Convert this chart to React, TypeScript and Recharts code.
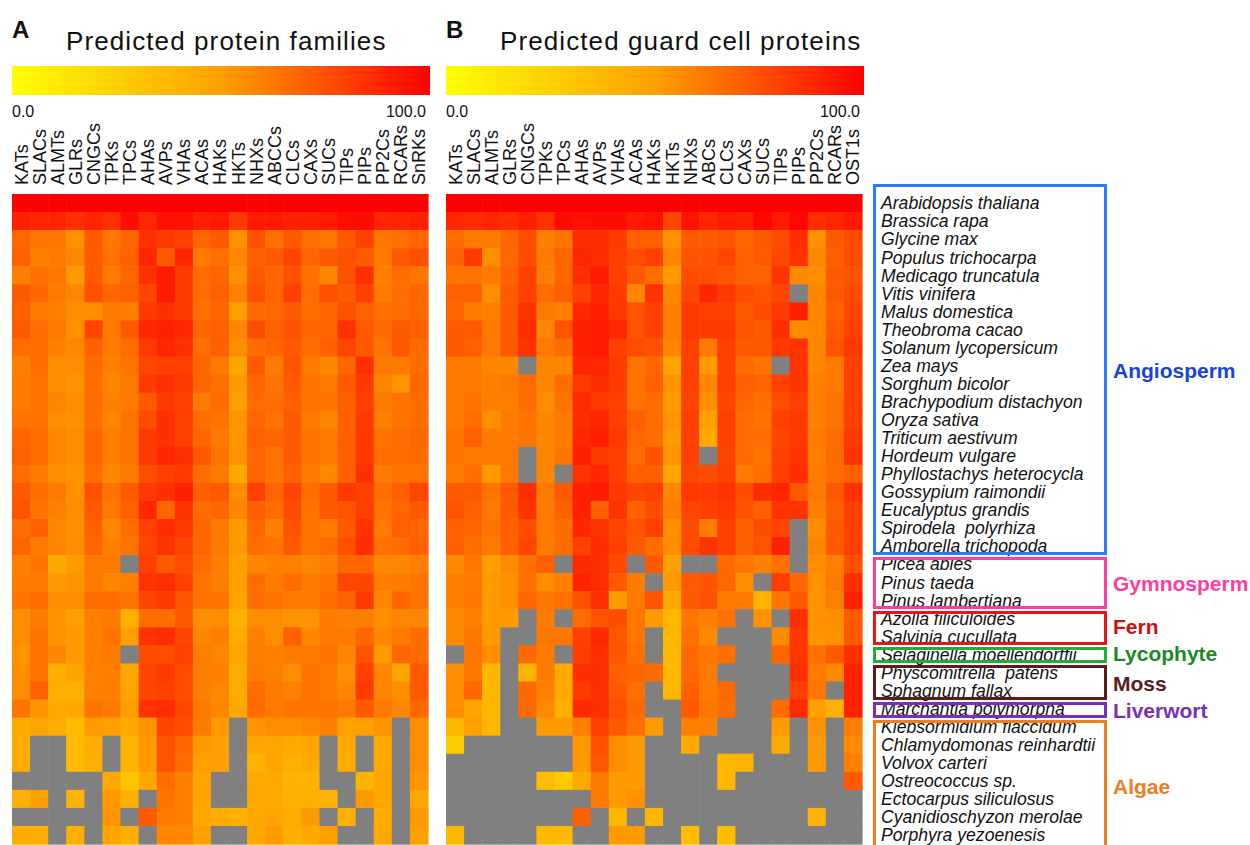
import React from "react";
import { ScatterChart, Scatter, XAxis, YAxis } from "recharts";

document.body.style.margin = "0";

const FONT = "'Liberation Sans', Arial, Helvetica, sans-serif";

const FAMILIES_A = ["KATs", "SLACs", "ALMTs", "GLRs", "CNGCs", "TPKs", "TPCs", "AHAs", "AVPs", "VHAs", "ACAs", "HAKs", "HKTs", "NHXs", "ABCCs", "CLCs", "CAXs", "SUCs", "TIPs", "PIPs", "PP2Cs", "RCARs", "SnRKs"];
const FAMILIES_B = ["KATs", "SLACs", "ALMTs", "GLRs", "CNGCs", "TPKs", "TPCs", "AHAs", "AVPs", "VHAs", "ACAs", "HAKs", "HKTs", "NHXs", "ABCs", "CLCs", "CAXs", "SUCs", "TIPs", "PIPs", "PP2Cs", "RCARs", "OST1s"];

const SPECIES = [
  "Arabidopsis thaliana", "Brassica rapa", "Glycine max", "Populus trichocarpa", "Medicago truncatula",
  "Vitis vinifera", "Malus domestica", "Theobroma cacao", "Solanum lycopersicum", "Zea mays",
  "Sorghum bicolor", "Brachypodium distachyon", "Oryza sativa", "Triticum aestivum", "Hordeum vulgare",
  "Phyllostachys heterocycla", "Gossypium raimondii", "Eucalyptus grandis", "Spirodela  polyrhiza", "Amborella trichopoda",
  "Picea abies", "Pinus taeda", "Pinus lambertiana",
  "Azolla filiculoides", "Salvinia cucullata",
  "Selaginella moellendorffii",
  "Physcomitrella  patens", "Sphagnum fallax",
  "Marchantia polymorpha",
  "Klebsormidium flaccidum", "Chlamydomonas reinhardtii", "Volvox carteri", "Ostreococcus sp.",
  "Ectocarpus siliculosus", "Cyanidioschyzon merolae", "Porphyra yezoenesis",
];

const GROUP_NAMES = ["Angiosperm", "Gymnosperm", "Fern", "Lycophyte", "Moss", "Liverwort", "Algae"];
const GROUP_SIZES = [20, 3, 2, 1, 2, 1, 7];

const _ = null;
const FULL = Array(23).fill(100);

// percent of Arabidopsis count, null = not found (grey)
const VALUES_A: (number | null)[][] = [
  FULL,
  [90, 88, 88, 85, 88, 85, 96, 88, 95, 95, 90, 92, 82, 92, 92, 90, 90, 92, 96, 96, 88, 88, 90],
  [68, 63, 63, 55, 72, 63, 68, 85, 82, 80, 68, 72, 55, 75, 65, 72, 65, 63, 72, 80, 63, 65, 68],
  [70, 60, 62, 58, 72, 65, 70, 88, 72, 88, 62, 65, 58, 70, 72, 78, 68, 72, 75, 72, 62, 72, 75],
  [60, 65, 63, 52, 72, 62, 68, 85, 92, 82, 66, 68, 55, 72, 68, 75, 65, 58, 75, 85, 60, 66, 63],
  [72, 68, 62, 58, 75, 68, 70, 78, 92, 82, 66, 70, 60, 75, 68, 80, 66, 75, 72, 80, 62, 66, 68],
  [70, 62, 60, 56, 56, 62, 60, 82, 85, 82, 65, 68, 50, 66, 68, 72, 66, 68, 75, 70, 65, 66, 68],
  [72, 66, 62, 55, 78, 62, 72, 88, 90, 88, 68, 70, 58, 76, 70, 74, 68, 68, 85, 72, 66, 72, 70],
  [66, 66, 60, 58, 70, 62, 66, 82, 88, 85, 65, 70, 56, 66, 68, 72, 66, 70, 78, 72, 64, 72, 66],
  [60, 66, 56, 56, 66, 60, 64, 78, 80, 80, 68, 62, 48, 72, 62, 74, 62, 58, 68, 85, 62, 62, 66],
  [62, 64, 56, 54, 66, 58, 62, 82, 85, 82, 68, 65, 52, 68, 64, 72, 64, 62, 72, 82, 58, 54, 68],
  [62, 64, 58, 56, 66, 60, 62, 72, 82, 80, 62, 66, 50, 66, 66, 70, 64, 64, 70, 80, 62, 64, 66],
  [64, 64, 56, 55, 66, 58, 64, 76, 85, 80, 66, 64, 54, 68, 64, 72, 62, 58, 70, 82, 60, 64, 66],
  [68, 66, 58, 56, 68, 60, 64, 82, 85, 80, 68, 62, 54, 70, 68, 72, 64, 62, 70, 82, 64, 66, 68],
  [70, 66, 58, 56, 68, 60, 64, 82, 88, 85, 72, 64, 54, 68, 64, 72, 64, 62, 70, 82, 66, 66, 66],
  [66, 62, 56, 54, 66, 58, 62, 76, 80, 82, 66, 62, 46, 68, 64, 70, 62, 58, 70, 85, 62, 64, 64],
  [72, 66, 62, 55, 75, 64, 72, 82, 85, 90, 70, 72, 56, 80, 68, 78, 66, 72, 82, 80, 66, 70, 78],
  [74, 64, 60, 56, 72, 62, 70, 88, 68, 84, 66, 68, 58, 70, 66, 76, 64, 72, 74, 80, 64, 68, 72],
  [66, 70, 58, 55, 70, 58, 66, 80, 86, 82, 68, 62, 52, 68, 60, 74, 64, 62, 72, 84, 62, 70, 68],
  [68, 62, 58, 56, 68, 60, 64, 78, 84, 78, 68, 62, 52, 66, 64, 72, 64, 66, 75, 86, 64, 66, 70],
  [60, 64, 46, 52, 62, 62, _, 80, 72, 76, 66, 60, 50, 58, 60, 60, 58, 60, 68, 68, 58, 58, 60],
  [62, 62, 52, 54, 62, 58, 60, 84, 86, 80, 64, 60, 50, 66, 62, 66, 62, 64, 78, 78, 60, 62, 64],
  [64, 66, 56, 56, 66, 66, 64, 78, 82, 74, 64, 64, 48, 66, 64, 62, 62, 66, 70, 82, 58, 68, 64],
  [56, 62, 54, 50, 60, 62, 42, 66, 66, 72, 56, 56, 42, 56, 56, 54, 54, 62, 60, 60, 56, 58, 58],
  [56, 64, 54, 52, 60, 64, 50, 84, 86, 78, 58, 60, 44, 60, 56, 70, 58, 62, 62, 68, 58, 62, 66],
  [54, 64, 58, 52, 60, 62, _, 76, 76, 80, 60, 58, 48, 60, 60, 62, 62, 64, 58, 74, 52, 68, 66],
  [56, 64, 42, 48, 60, 60, 46, 78, 82, 76, 60, 60, 44, 62, 60, 56, 64, 62, 56, 80, 58, 48, 72],
  [56, 70, 42, 42, 60, 60, 48, 78, 80, 76, 60, 58, 44, 66, 62, 60, 64, 62, 58, 82, 58, 56, 72],
  [64, 54, 46, 46, 64, 62, 50, 84, 86, 78, 62, 58, 46, 66, 62, 64, 64, 64, 62, 72, 62, 58, 68],
  [44, 48, 44, 36, 52, 50, 46, 54, 78, 76, 62, 52, _, 54, 56, 56, 58, 60, 50, 50, 54, _, 56],
  [44, _, _, 36, 44, _, 40, 52, 74, 68, 52, 50, _, 48, 48, 46, 48, _, 46, _, 46, _, 56],
  [44, _, _, 36, 42, _, 40, 52, 74, 66, 50, 50, _, 40, 48, 42, 46, _, 44, _, 46, _, 56],
  [_, _, _, _, _, 46, 30, 46, 66, 60, 48, _, _, 46, 46, 40, 40, _, _, 40, 46, _, 54],
  [42, 50, _, 40, _, 52, 42, _, 64, 60, 48, _, _, 46, 46, 42, 42, 40, _, 52, 46, _, 46],
  [_, _, _, _, _, 54, _, 72, 62, 60, 46, 44, 42, 46, 48, 44, 52, _, 42, _, 44, _, 52],
  [44, 44, _, 42, _, 48, 42, _, 58, 58, 50, _, _, 46, 52, 42, 46, 50, _, _, 46, _, 50],
];

const VALUES_B: (number | null)[][] = [
  FULL,
  [88, 86, 88, 86, 90, 84, 96, 95, 96, 96, 92, 94, 78, 94, 88, 92, 90, 98, 92, 98, 86, 88, 92],
  [66, 62, 62, 68, 76, 60, 64, 86, 86, 82, 70, 70, 55, 72, 72, 74, 68, 72, 76, 86, 55, 72, 76],
  [70, 82, 56, 68, 76, 62, 68, 88, 86, 80, 76, 80, 58, 74, 74, 78, 70, 72, 78, 84, 58, 70, 76],
  [64, 64, 62, 70, 80, 60, 68, 86, 92, 80, 72, 66, 52, 76, 76, 74, 70, 70, 84, 57, 56, 72, 74],
  [70, 70, 56, 72, 80, 66, 70, 80, 88, 82, 58, 84, 58, 78, 88, 82, 76, 74, 78, _, 58, 72, 76],
  [68, 62, 60, 72, 84, 62, 60, 88, 90, 82, 74, 80, 60, 82, 80, 80, 72, 76, 82, 90, 58, 70, 78],
  [72, 72, 62, 72, 86, 58, 74, 90, 92, 88, 74, 80, 60, 82, 82, 82, 74, 72, 86, 56, 58, 72, 80],
  [72, 70, 62, 72, 84, 62, 66, 90, 92, 80, 76, 74, 58, 80, 62, 80, 72, 72, 82, 84, 58, 74, 82],
  [62, 62, 58, 58, _, 58, 58, 88, 88, 82, 64, 68, 48, 80, 52, 80, 66, 64, _, 84, 58, 62, 80],
  [62, 62, 60, 62, 66, 58, 66, 82, 86, 82, 64, 70, 54, 80, 58, 80, 70, 68, 80, 84, 60, 62, 80],
  [62, 64, 60, 60, 66, 56, 64, 86, 82, 80, 64, 66, 52, 78, 56, 78, 68, 66, 76, 80, 60, 64, 80],
  [62, 66, 56, 62, 64, 58, 62, 86, 88, 80, 70, 66, 54, 80, 50, 80, 66, 64, 80, 82, 60, 64, 80],
  [64, 70, 62, 62, 64, 58, 62, 88, 90, 82, 68, 66, 52, 80, 46, 80, 66, 66, 78, 82, 62, 66, 82],
  [64, 62, 62, 62, _, 58, 64, 90, 82, 80, 66, 74, 54, 80, _, 78, 66, 64, 80, 84, 60, 66, 84],
  [62, 66, 52, 62, _, 58, _, 84, 88, 80, 70, 70, 48, 78, 76, 80, 62, 66, 80, 86, 62, 66, 70],
  [72, 72, 64, 72, 86, 62, 72, 90, 92, 82, 78, 80, 58, 82, 82, 84, 76, 86, 88, 72, 62, 72, 84],
  [74, 70, 62, 72, 84, 62, 70, 90, 70, 84, 70, 76, 60, 78, 80, 82, 74, 70, 84, 84, 60, 70, 80],
  [70, 68, 64, 70, 76, 62, 66, 88, 84, 78, 74, 80, 56, 76, 62, 80, 70, 76, 78, _, 56, 72, 80],
  [70, 66, 62, 70, 78, 62, 66, 80, 86, 80, 72, 66, 56, 76, 84, 80, 70, 74, 90, _, 58, 72, 80],
  [57, 63, 50, 57, 65, 70, _, 87, 85, 77, _, 72, 50, _, _, 67, 63, 60, 65, _, 56, 60, 75],
  [60, 62, 52, 55, 65, 56, 60, 89, 86, 72, 62, _, 52, 72, 74, 68, 56, _, 81, 68, 55, 62, 85],
  [60, 63, 52, 55, 68, 63, 65, 75, 85, 52, 62, 74, 45, 72, 75, 62, 62, 40, 63, 72, 55, 60, 89],
  [57, 60, 52, 52, _, 62, _, 66, 74, 76, 63, 52, 38, 63, 60, 65, _, 55, _, 85, 55, 56, 72],
  [57, 63, 52, _, _, 63, 63, 80, 87, 73, 63, _, 38, 65, 57, _, _, _, 57, 83, 54, 55, 72],
  [_, 63, 56, _, 67, 62, _, 81, 85, 73, 65, _, 38, 67, 63, 65, _, _, 68, 83, 65, 72, 85],
  [56, 63, 37, _, 40, 62, 45, 85, 85, 70, 68, 66, 38, 67, 62, _, _, _, _, 85, 62, 57, 89],
  [56, 68, 38, _, 67, 60, 45, 82, 85, 72, 65, _, 37, 70, 62, 67, _, _, _, 80, 63, _, 89],
  [56, 48, 38, _, 67, 57, 42, 87, 85, 75, 67, _, _, 72, 63, 66, _, _, 66, 87, 50, 42, 89],
  [38, 50, 38, _, _, 52, 52, 60, 80, 72, 65, 52, _, 60, 60, _, _, _, 52, _, 55, _, 60],
  [28, _, _, _, _, _, _, 52, 75, 56, 52, _, _, 45, _, _, _, _, 45, _, 52, _, 57],
  [_, _, _, _, _, _, _, 52, 73, 56, 52, _, _, _, _, 38, 40, _, _, _, 52, _, 60],
  [_, _, _, _, _, 35, 28, 45, 62, 52, 52, _, _, _, _, 38, _, _, _, _, _, _, 72],
  [_, _, _, _, _, _, _, _, 62, 52, 55, _, _, _, _, _, _, _, _, _, _, _, _],
  [_, _, _, _, _, _, _, 70, _, 38, _, 38, _, _, _, _, _, _, _, _, 40, _, _],
  [38, _, _, _, _, 38, 37, _, _, 52, 52, _, _, 35, _, 35, _, _, _, _, _, _, _],
];

// layout
const PLOT_TOP = 194;
const PLOT_W = 416;
const PLOT_H = 650;
const CELL_W = PLOT_W / 23;
const CELL_H = PLOT_H / 36;
const colTicks = FAMILIES_A.map((_, i) => i);
const rowTicks = SPECIES.map((_, i) => i);

const GROUP_STYLE = [
  { box: "#2a7bff", text: "#1744d4", dy: -4 },
  { box: "#ff3d9c", text: "#ff3d9c", dy: 2 },
  { box: "#e8141c", text: "#cf0e0e", dy: 0 },
  { box: "#1fae3c", text: "#1a8a22", dy: 0 },
  { box: "#5a1c1c", text: "#5a1c1c", dy: 2 },
  { box: "#7a2fb8", text: "#7a2fb8", dy: 2 },
  { box: "#f07d1e", text: "#f07d1e", dy: 6 },
];

function cellColor(v: number | null) {
  if (v === null) return "#808080";
  const g = v <= 50 ? 255 - (95 * v) / 50 : 160 * (1 - (v - 50) / 50);
  return `rgb(255,${Math.round(g)},0)`;
}

const toPoints = (rows: (number | null)[][]) =>
  rows.flatMap((row, i) => row.map((v, j) => ({ x: j, y: i, v })));

const pointsA = toPoints(VALUES_A);
const pointsB = toPoints(VALUES_B);

const cellShape = (props: any) => {
  const { cx, cy, payload } = props;
  return (
    <rect
      x={cx - CELL_W / 2}
      y={cy - CELL_H / 2}
      width={CELL_W + 0.6}
      height={CELL_H + 0.6}
      fill={cellColor(payload.v)}
    />
  );
};

const familyTick = (names: string[]) => (props: any) => {
  const { x, y, payload } = props;
  return (
    <text
      transform={`translate(${x},${y - 9}) rotate(-90)`}
      textAnchor="start"
      dy="0.36em"
      fontSize={18}
      fontFamily={FONT}
      fill="#111"
    >
      {names[payload.value]}
    </text>
  );
};

const speciesTick = (props: any) => {
  const { x, y, payload } = props;
  return (
    <text
      x={x + 19}
      y={y}
      dy="0.36em"
      textAnchor="start"
      fontSize={17.6}
      fontStyle="italic"
      fontFamily={FONT}
      fill="#111"
      style={{ whiteSpace: "pre" }}
    >
      {SPECIES[payload.value]}
    </text>
  );
};

function Header({ left, letter, title }: { left: number; letter: string; title: string }) {
  return (
    <>
      <div style={{ position: "absolute", left: left, top: 18, fontSize: 24, fontWeight: "bold", lineHeight: "24px" }}>
        {letter}
      </div>
      <div style={{ position: "absolute", left: left + 54, top: 28, fontSize: 26, letterSpacing: 1.1, lineHeight: "26px", whiteSpace: "nowrap" }}>
        {title}
      </div>
      <div
        style={{
          position: "absolute",
          left: left,
          top: 66,
          width: 418,
          height: 29,
          background: "linear-gradient(to right, #ffff00, #ffa000 50%, #ff0000)",
        }}
      />
      <div style={{ position: "absolute", left: left, top: 104, fontSize: 16, lineHeight: "16px" }}>0.0</div>
      <div style={{ position: "absolute", left: left + 318, width: 96, textAlign: "right", top: 104, fontSize: 16, lineHeight: "16px" }}>
        100.0
      </div>
    </>
  );
}

export default function App() {
  const rowTop = (r: number) => PLOT_TOP + r * CELL_H;
  let start = 0;
  const groups = GROUP_NAMES.map((name, g) => {
    const first = start;
    start += GROUP_SIZES[g];
    const top = g === 0 ? 184 : rowTop(first) + 2;
    const bottom = g === GROUP_NAMES.length - 1 ? 852 : rowTop(start);
    const mid = (rowTop(first) + rowTop(start)) / 2 + GROUP_STYLE[g].dy;
    return { name, top, bottom, mid, style: GROUP_STYLE[g] };
  });

  return (
    <div style={{ position: "relative", width: 1250, height: 845, overflow: "hidden", background: "#fff", fontFamily: FONT, color: "#111" }}>
      <Header left={12} letter="A" title="Predicted protein families" />
      <Header left={446} letter="B" title="Predicted guard cell proteins" />

      <div style={{ position: "absolute", left: 0, top: 0 }}>
        <ScatterChart width={440} height={845} margin={{ top: 104, right: 12, bottom: 1, left: 12 }}>
          <XAxis
            type="number"
            dataKey="x"
            orientation="top"
            height={90}
            domain={[-0.5, 22.5]}
            ticks={colTicks}
            interval={0}
            tick={familyTick(FAMILIES_A)}
            tickLine={false}
            axisLine={false}
            tickSize={0}
            tickMargin={0}
          />
          <YAxis type="number" dataKey="y" domain={[-0.5, 35.5]} reversed hide />
          <Scatter data={pointsA} shape={cellShape} isAnimationActive={false} />
        </ScatterChart>
      </div>

      <div style={{ position: "absolute", left: 434, top: 0 }}>
        <ScatterChart width={816} height={845} margin={{ top: 104, right: 0, bottom: 1, left: 12 }}>
          <XAxis
            type="number"
            dataKey="x"
            orientation="top"
            height={90}
            domain={[-0.5, 22.5]}
            ticks={colTicks}
            interval={0}
            tick={familyTick(FAMILIES_B)}
            tickLine={false}
            axisLine={false}
            tickSize={0}
            tickMargin={0}
          />
          <YAxis
            type="number"
            dataKey="y"
            orientation="right"
            width={388}
            domain={[-0.5, 35.5]}
            reversed
            ticks={rowTicks}
            interval={0}
            tick={speciesTick}
            tickLine={false}
            axisLine={false}
            tickSize={0}
            tickMargin={0}
          />
          <Scatter data={pointsB} shape={cellShape} isAnimationActive={false} />
        </ScatterChart>
      </div>

      {groups.map((g) => (
        <React.Fragment key={g.name}>
          <div
            style={{
              position: "absolute",
              left: 873,
              top: g.top,
              width: 234,
              height: g.bottom - g.top,
              boxSizing: "border-box",
              border: `3px solid ${g.style.box}`,
              pointerEvents: "none",
            }}
          />
          <div
            style={{
              position: "absolute",
              left: 1113,
              top: g.mid - 11,
              fontSize: 21,
              lineHeight: "22px",
              fontWeight: "bold",
              color: g.style.text,
              whiteSpace: "nowrap",
            }}
          >
            {g.name}
          </div>
        </React.Fragment>
      ))}
    </div>
  );
}
